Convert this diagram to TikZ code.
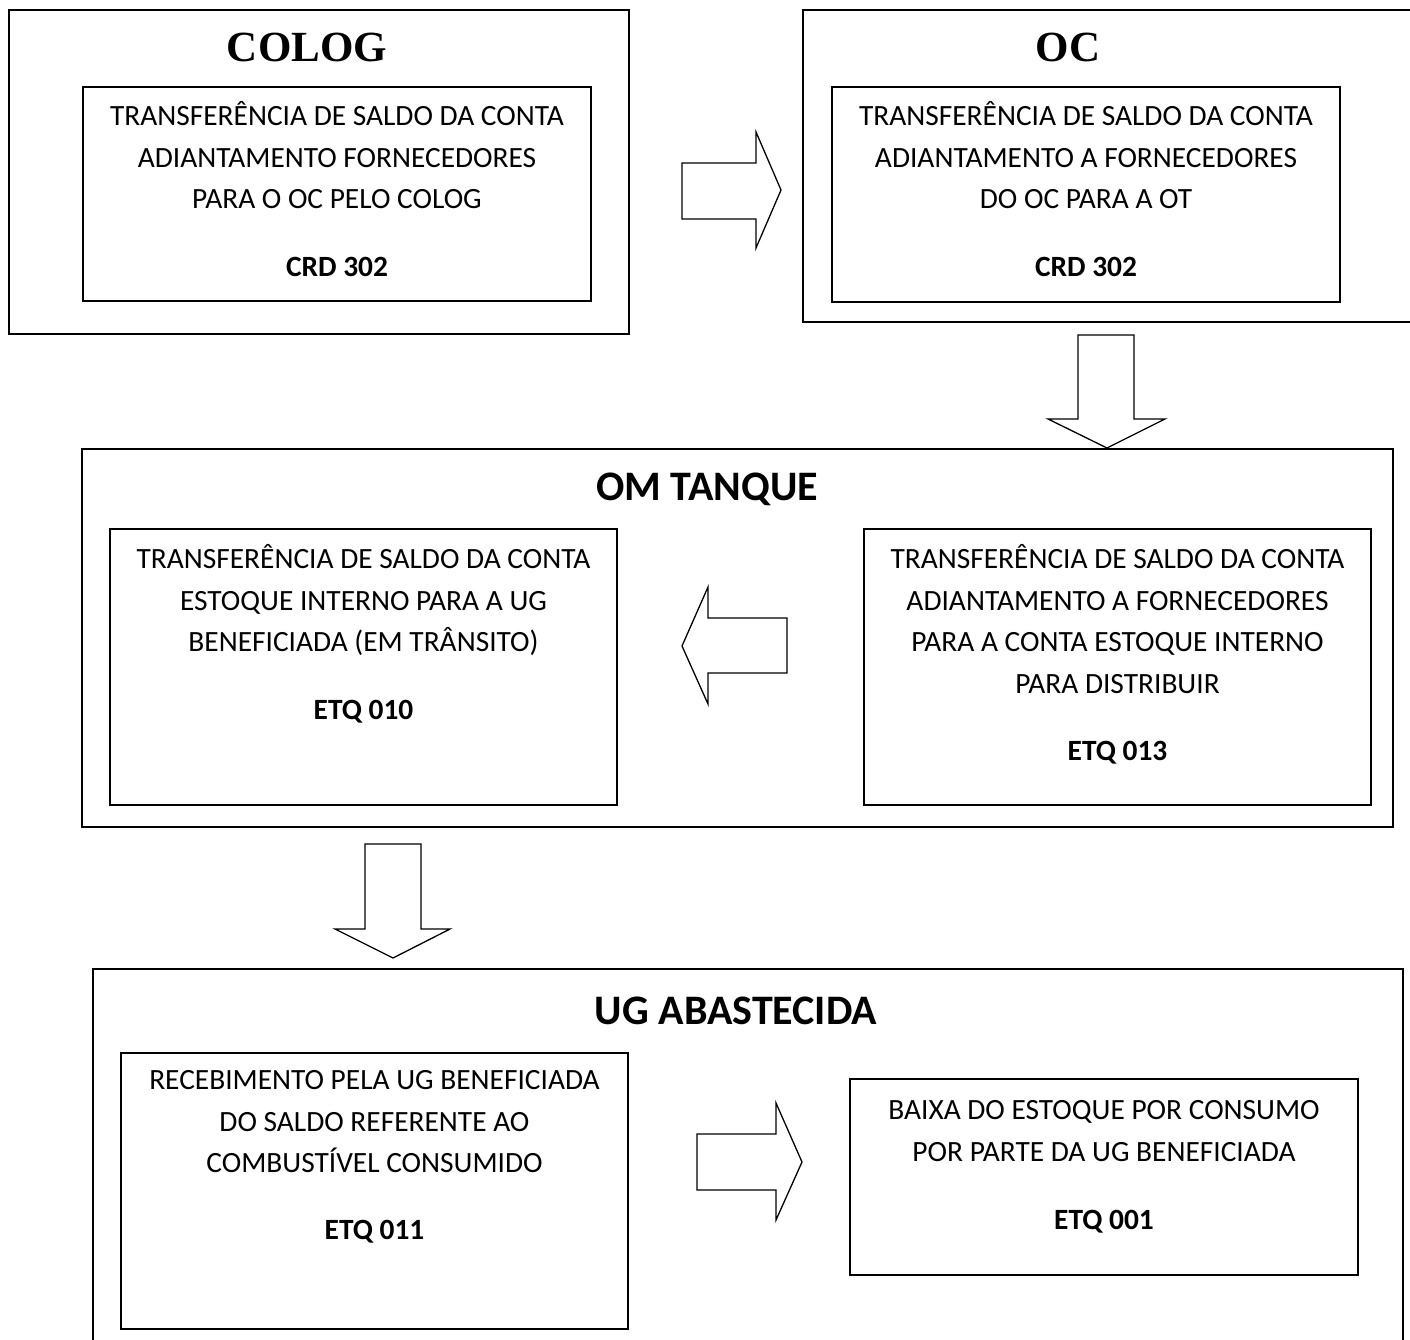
\documentclass[tikz,border=0pt]{standalone}
\usepackage{fontspec}
\setmainfont{Carlito}
\newfontfamily\titleserif{Liberation Serif}
\newcommand{\blocktext}[1]{\begin{tabular}[t]{@{}c@{}}#1\end{tabular}}
\begin{document}
\begin{tikzpicture}[x=1pt,y=-1pt,
  box/.style={draw, line width=1.8pt, rectangle, inner sep=0pt},
  blk/.style={draw, line width=1.3pt, line join=miter, fill=white},
  body/.style={inner sep=0pt, anchor=base, font=\fontsize{29.4}{41.5}\selectfont},
  code/.style={inner sep=0pt, anchor=base, font=\fontsize{29.4}{41.5}\selectfont\bfseries},
  ttl/.style={inner sep=0pt, anchor=base, font=\fontsize{42}{46}\selectfont\bfseries},
  ttlserif/.style={inner sep=0pt, anchor=base, font=\fontsize{43}{46}\selectfont\titleserif\bfseries}]
\useasboundingbox (0,0) rectangle (1410,1339);
\clip (0,0) rectangle (1410,1339);

% ---------- COLOG ----------
\node[box, minimum width=620pt, minimum height=324pt] (cologout) at (319,172) {};
\node[box, minimum width=508pt, minimum height=214pt] (cologin) at (337,194) {};
\node[ttlserif] (cologttl) at (307,61.5) {COLOG};
\node[body] (cologtxt) at (337,125.5) {\blocktext{TRANSFERÊNCIA DE SALDO DA CONTA\\ADIANTAMENTO FORNECEDORES\\PARA O OC PELO COLOG}};
\node[code] (cologcode) at (337,276.5) {CRD 302};

% ---------- OC ----------
\node[box, minimum width=617pt, minimum height=312pt] (ocout) at (1111.5,166) {};
\node[box, minimum width=508pt, minimum height=215pt] (ocin) at (1086,194.5) {};
\node[ttlserif] (octtl) at (1068,61.5) {OC};
\node[body] (octxt) at (1086,125.5) {\blocktext{TRANSFERÊNCIA DE SALDO DA CONTA\\ADIANTAMENTO A FORNECEDORES\\DO OC PARA A OT}};
\node[code] (occode) at (1086,276.5) {CRD 302};

% ---------- OM TANQUE ----------
\node[box, minimum width=1311pt, minimum height=378pt] (omout) at (737.5,638) {};
\node[box, minimum width=507pt, minimum height=276pt] (omleft) at (363.5,667) {};
\node[box, minimum width=507pt, minimum height=276pt] (omright) at (1117.5,667) {};
\node[ttl] (omttl) at (707,500.5) {OM TANQUE};
\node[body] (omlefttxt) at (363.5,568.5) {\blocktext{TRANSFERÊNCIA DE SALDO DA CONTA\\ESTOQUE INTERNO PARA A UG\\BENEFICIADA (EM TRÂNSITO)}};
\node[code] (omleftcode) at (363.5,719.5) {ETQ 010};
\node[body] (omrighttxt) at (1117.5,568.5) {\blocktext{TRANSFERÊNCIA DE SALDO DA CONTA\\ADIANTAMENTO A FORNECEDORES\\PARA A CONTA ESTOQUE INTERNO\\PARA DISTRIBUIR}};
\node[code] (omrightcode) at (1117.5,760.5) {ETQ 013};

% ---------- UG ABASTECIDA ----------
\node[box, minimum width=1310pt, minimum height=391pt] (ugout) at (748,1164.5) {};
\node[box, minimum width=507pt, minimum height=276pt] (ugleft) at (374.5,1191) {};
\node[box, minimum width=508pt, minimum height=196pt] (ugright) at (1104,1177) {};
\node[ttl] (ugttl) at (736,1024.5) {UG ABASTECIDA};
\node[body] (uglefttxt) at (374.5,1089.5) {\blocktext{RECEBIMENTO PELA UG BENEFICIADA\\DO SALDO REFERENTE AO\\COMBUSTÍVEL CONSUMIDO}};
\node[code] (ugleftcode) at (374.5,1239.5) {ETQ 011};
\node[body] (ugrighttxt) at (1104,1119.5) {\blocktext{BAIXA DO ESTOQUE POR CONSUMO\\POR PARTE DA UG BENEFICIADA}};
\node[code] (ugrightcode) at (1104,1229.5) {ETQ 001};

% ---------- block arrows ----------
\draw[blk] (682,163) -- (756,163) -- (756,132) -- (781,190) -- (756,248) -- (756,219) -- (682,219) -- cycle;
\draw[blk] (1078,335) -- (1134,335) -- (1134,419) -- (1165,419) -- (1107,448) -- (1048,419) -- (1078,419) -- cycle;
\draw[blk] (787,618) -- (708,618) -- (708,587) -- (682,646) -- (708,704) -- (708,673) -- (787,673) -- cycle;
\draw[blk] (365,844) -- (421,844) -- (421,929) -- (450,929) -- (393,958) -- (335,929) -- (365,929) -- cycle;
\draw[blk] (697,1134) -- (776,1134) -- (776,1103) -- (802,1162) -- (776,1220) -- (776,1190) -- (697,1190) -- cycle;
\end{tikzpicture}
\end{document}
